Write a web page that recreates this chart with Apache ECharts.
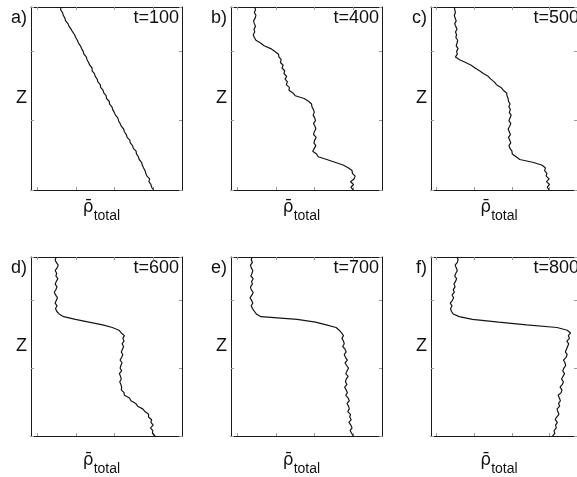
<!DOCTYPE html>
<html><head><meta charset="utf-8">
<script src="https://cdn.jsdelivr.net/npm/echarts@6/dist/echarts.min.js"></script>
<style>html,body{margin:0;padding:0;background:#fff}#c{width:577px;height:477px}</style>
</head><body><div id="c"></div>
<script>
// ---------- data ----------
const zLevels = [0.00,0.04,0.08,0.12,0.16,0.20,0.24,0.28,0.32,0.36,0.40,0.44,0.48,0.52,0.56,0.60,0.64,0.68,0.72,0.76,
  0.80,0.84,0.88,0.92,0.96,1.00,1.04,1.08,1.12,1.16,1.20,1.24,1.28,1.32,1.36,1.40,1.44,1.48,1.52,1.56,
  1.60,1.64,1.68,1.72,1.76,1.80,1.84,1.88,1.92,1.96,2.00,2.04,2.08,2.12,2.16,2.20,2.24,2.28,2.32,2.36,
  2.40,2.44,2.48,2.52,2.56,2.60,2.64];
const panelLabels = ['a)','b)','c)','d)','e)','f)'];
const timeLabels = ['t=100','t=400','t=500','t=600','t=700','t=800'];
const xTickValues = [0,1,2,3];
const rhoA = [3.00,2.95,2.93,2.88,2.90,2.83,2.80,2.78,2.74,2.71,2.69,2.63,2.61,2.56,2.55,2.48,2.46,2.40,2.39,2.32,
  2.30,2.25,2.23,2.17,2.14,2.10,2.08,2.02,1.99,1.95,1.93,1.87,1.86,1.79,1.78,1.72,1.70,1.64,1.63,1.57,
  1.55,1.50,1.48,1.42,1.42,1.36,1.33,1.29,1.27,1.21,1.19,1.15,1.12,1.07,1.04,1.00,0.97,0.92,0.88,0.83,
  0.80,0.74,0.72,0.68,0.66,0.61,0.62];
const rhoB = [2.99,2.93,3.00,2.92,3.01,3.04,2.97,2.96,2.86,2.73,2.52,2.31,2.09,2.05,1.95,1.99,2.03,1.98,2.00,2.04,
  1.97,1.99,2.03,2.01,1.97,2.02,2.00,1.96,1.99,1.97,1.93,1.92,1.84,1.73,1.50,1.44,1.34,1.35,1.27,1.30,
  1.24,1.28,1.21,1.23,1.16,1.19,1.12,1.14,1.08,1.07,0.97,0.87,0.70,0.61,0.49,0.45,0.42,0.46,0.44,0.48,
  0.45,0.43,0.47,0.49,0.45,0.48,0.46];
const rhoC = [2.99,2.94,3.00,2.92,2.99,2.91,2.93,2.87,2.89,2.79,2.55,2.21,2.11,2.01,2.00,1.95,1.92,1.97,1.94,1.91,
  1.96,1.93,1.90,1.94,1.97,1.92,1.95,1.98,1.93,1.96,1.92,1.95,1.91,1.90,1.87,1.86,1.77,1.71,1.59,1.53,
  1.44,1.37,1.24,1.14,1.02,0.92,0.77,0.61,0.50,0.55,0.53,0.57,0.52,0.54,0.56,0.51,0.53,0.50,0.54,0.51,
  0.48,0.52,0.49,0.47,0.50,0.48,0.47];
const rhoD = [3.04,2.97,2.98,2.92,2.99,2.93,2.95,2.87,2.87,2.78,2.72,2.59,2.54,2.42,2.38,2.25,2.24,2.17,2.18,2.16,
  2.13,2.17,2.15,2.12,2.18,2.14,2.16,2.19,2.14,2.18,2.21,2.17,2.20,2.23,2.19,2.24,2.21,2.25,2.17,2.11,
  1.94,1.69,1.34,0.99,0.69,0.57,0.51,0.48,0.52,0.47,0.50,0.53,0.48,0.45,0.49,0.52,0.47,0.50,0.54,0.49,
  0.51,0.47,0.52,0.55,0.50,0.47,0.50];
const rhoE = [2.99,2.95,2.91,2.96,2.93,2.88,2.94,2.90,2.92,2.85,2.89,2.87,2.83,2.89,2.86,2.80,2.84,2.81,2.77,2.83,
  2.79,2.81,2.86,2.80,2.83,2.87,2.82,2.78,2.84,2.79,2.76,2.81,2.78,2.72,2.76,2.74,2.70,2.74,2.69,2.63,
  2.55,2.30,2.02,1.55,0.62,0.50,0.45,0.40,0.37,0.41,0.38,0.34,0.39,0.42,0.37,0.35,0.40,0.38,0.42,0.36,
  0.39,0.41,0.37,0.35,0.40,0.37,0.39];
const rhoF = [3.08,3.14,3.12,3.18,3.16,3.21,3.15,3.19,3.25,3.22,3.20,3.27,3.24,3.29,3.26,3.23,3.31,3.33,3.28,3.34,
  3.37,3.32,3.36,3.40,3.35,3.38,3.43,3.41,3.37,3.44,3.47,3.42,3.45,3.48,3.51,3.46,3.53,3.50,3.56,3.47,
  3.20,2.39,1.65,0.95,0.60,0.44,0.39,0.37,0.41,0.36,0.42,0.45,0.41,0.47,0.44,0.49,0.46,0.50,0.53,0.48,
  0.51,0.55,0.52,0.49,0.55,0.57,0.54];
const profiles = [rhoA, rhoB, rhoC, rhoD, rhoE, rhoF];

// ---------- layout ----------
const colLefts = [31, 231, 431];
const rowTops = [7, 257];
const gridW = 151, gridH = 183;
const FONT = '"Liberation Sans", Arial, Helvetica, sans-serif';

const grids = [], xAxes = [], yAxes = [], series = [], graphics = [];
const tickStyle = {show: true, inside: true, length: 3, lineStyle: {color: '#9a9a9a', width: 1}};
const lineAxis = {show: true, onZero: false, lineStyle: {color: '#1a1a1a', width: 1}};

profiles.forEach((rho, i) => {
  const r = Math.floor(i / 3), c = i % 3;
  const left = colLefts[c], top = rowTops[r];
  grids.push({left: left, top: top, width: gridW, height: gridH, containLabel: false});
  xAxes.push({
    type: 'value', gridIndex: i, min: -0.15, max: 3.73, position: 'bottom',
    axisLine: lineAxis, axisTick: Object.assign({customValues: xTickValues}, tickStyle),
    axisLabel: {show: false}, splitLine: {show: false},
    name: '{r|ρ̄}{s|total}', nameLocation: 'middle', nameGap: r === 0 ? 9 : 16,
    nameTextStyle: {
      padding: [0, 10, 0, 0],
      rich: {
        r: {fontFamily: '"DejaVu Sans", sans-serif', fontSize: 17, color: '#111', lineHeight: 24, verticalAlign: 'top'},
        s: {fontFamily: FONT, fontSize: 14, color: '#111', lineHeight: 16, verticalAlign: 'bottom'}
      }
    }
  });
  xAxes.push({
    type: 'value', gridIndex: i, min: -0.15, max: 3.73, position: 'top',
    axisLine: lineAxis, axisTick: Object.assign({customValues: xTickValues}, tickStyle),
    axisLabel: {show: false}, splitLine: {show: false}
  });
  yAxes.push({
    type: 'value', gridIndex: i, min: 0, max: 2.64, interval: 1, position: 'left',
    axisLine: lineAxis, axisTick: tickStyle, axisLabel: {show: false}, splitLine: {show: false},
    name: 'Z', nameLocation: 'middle', nameRotate: 0, nameGap: 4,
    nameTextStyle: {fontFamily: FONT, fontSize: 18, color: '#111', padding: [0, 0, 6, 0]}
  });
  yAxes.push({
    type: 'value', gridIndex: i, min: 0, max: 2.64, interval: 1, position: 'right',
    axisLine: lineAxis, axisTick: tickStyle, axisLabel: {show: false}, splitLine: {show: false}
  });
  series.push({
    type: 'line', xAxisIndex: 2 * i, yAxisIndex: 2 * i,
    data: zLevels.map((z, k) => [rho[k], z]),
    showSymbol: false, symbol: 'none', smooth: false,
    lineStyle: {color: '#151515', width: 1.2}, silent: true, animation: false
  });
  graphics.push({
    type: 'text', x: left - 4, y: top + 11,
    style: {text: panelLabels[i], font: '18px ' + FONT, fill: '#111', align: 'right', verticalAlign: 'middle'}
  });
  graphics.push({
    type: 'text', x: left + gridW - 3, y: top + 11,
    style: {text: timeLabels[i], font: '18px ' + FONT, fill: '#111', align: 'right', verticalAlign: 'middle'}
  });
});

const chart = echarts.init(document.getElementById('c'), null, {renderer: 'canvas'});
chart.setOption({
  animation: false,
  backgroundColor: '#ffffff',
  grid: grids, xAxis: xAxes, yAxis: yAxes, series: series, graphic: graphics
});
</script>
</body></html>
